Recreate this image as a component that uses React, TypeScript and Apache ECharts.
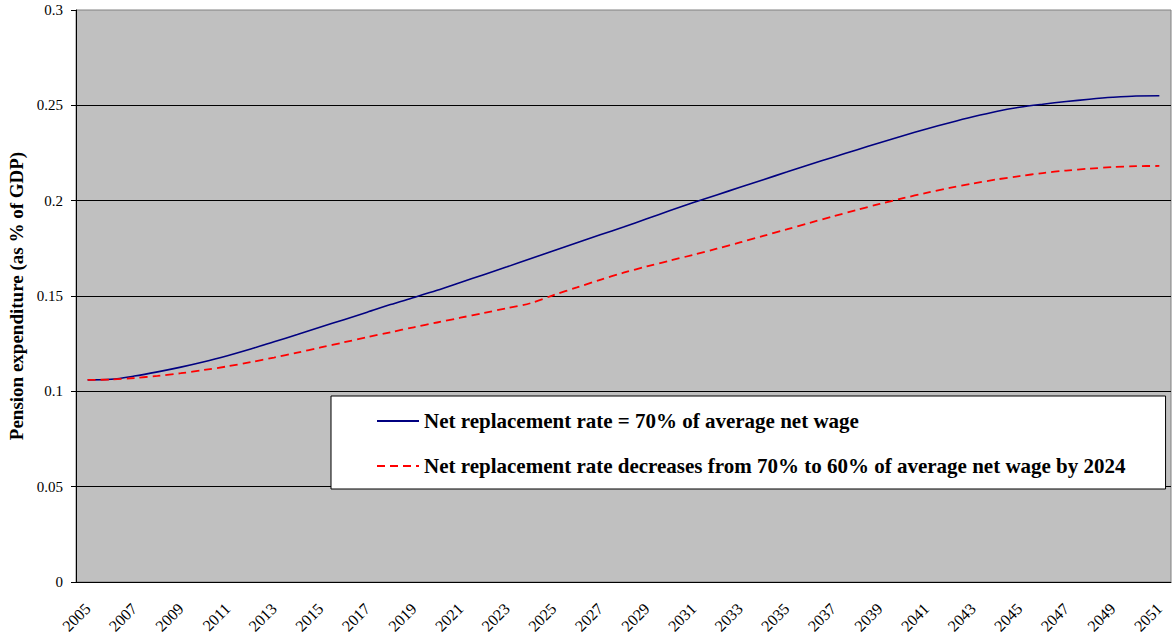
import React, { useEffect, useRef } from "react";
import * as echarts from "echarts";

const years: string[] = [];
for (let y = 2005; y <= 2051; y++) years.push(String(y));

const seriesNames = [
  "Net replacement rate = 70% of average net wage",
  "Net replacement rate decreases from 70% to 60% of average net wage by 2024",
];

const rate70 = [
  0.1060, 0.1063, 0.1080, 0.1102, 0.1127, 0.1155, 0.1187, 0.1222, 0.1260, 0.1298,
  0.1337, 0.1376, 0.1415, 0.1455, 0.1492, 0.1530, 0.1571, 0.1612, 0.1653, 0.1695,
  0.1737, 0.1779, 0.1821, 0.1862, 0.1905, 0.1948, 0.1990, 0.2030, 0.2070, 0.2110,
  0.2150, 0.2190, 0.2228, 0.2266, 0.2304, 0.2341, 0.2376, 0.2409, 0.2440, 0.2468,
  0.2490, 0.2506, 0.2520, 0.2532, 0.2542, 0.2549, 0.2550,
];

const rateDecreasing = [
  0.1060, 0.1062, 0.1070, 0.1081, 0.1095, 0.1112, 0.1131, 0.1153, 0.1177, 0.1203,
  0.1230, 0.1257, 0.1284, 0.1310, 0.1336, 0.1361, 0.1386, 0.1411, 0.1436, 0.1462,
  0.1505, 0.1545, 0.1585, 0.1622, 0.1655, 0.1686, 0.1716, 0.1748, 0.1781, 0.1815,
  0.1849, 0.1884, 0.1918, 0.1951, 0.1983, 0.2013, 0.2041, 0.2067, 0.2090, 0.2111,
  0.2129, 0.2145, 0.2158, 0.2168, 0.2176, 0.2181, 0.2182,
];

const FONT = "'Liberation Serif', 'Times New Roman', serif";

export default function App() {
  const ref = useRef<HTMLDivElement>(null);
  useEffect(() => {
    document.body.style.margin = "0";
    if (!ref.current) return;
    const chart = echarts.init(ref.current, undefined, { renderer: "svg" });
    chart.setOption({
      animation: false,
      backgroundColor: "#ffffff",
      textStyle: { fontFamily: FONT },
      grid: {
        left: 76,
        top: 10,
        right: 2,
        bottom: 52,
        containLabel: false,
        outerBoundsMode: "none",
        show: true,
        backgroundColor: "#C0C0C0",
        borderColor: "#808080",
        borderWidth: 1,
      },
      legend: {
        orient: "vertical",
        left: 331,
        top: 396,
        align: "left",
        backgroundColor: "#ffffff",
        borderColor: "#000000",
        borderWidth: 1,
        padding: [14, 40, 12, 45],
        itemGap: 23,
        itemWidth: 42,
        itemHeight: 14,
        itemStyle: { opacity: 0 },
        textStyle: {
          fontFamily: FONT,
          fontSize: 21,
          fontWeight: "bold",
          color: "#000000",
          lineHeight: 22,
        },
        data: seriesNames,
      },
      xAxis: {
        type: "category",
        data: years,
        boundaryGap: true,
        axisLine: { lineStyle: { color: "#000000", width: 1 } },
        axisTick: { interval: 0, length: 5, lineStyle: { color: "#000000" } },
        axisLabel: {
          interval: 1,
          rotate: 45,
          fontSize: 16,
          color: "#000000",
          fontFamily: FONT,
          margin: 24,
        },
        splitLine: { show: false },
      },
      yAxis: {
        type: "value",
        min: 0,
        max: 0.3,
        interval: 0.05,
        name: "Pension expenditure (as % of GDP)",
        nameLocation: "middle",
        nameRotate: 90,
        nameGap: 49,
        nameTextStyle: {
          fontFamily: FONT,
          fontSize: 19,
          fontWeight: "bold",
          color: "#000000",
        },
        axisLine: { show: true, lineStyle: { color: "#000000", width: 1 } },
        axisTick: { show: true, length: 5, lineStyle: { color: "#000000" } },
        axisLabel: {
          fontSize: 15,
          color: "#000000",
          fontFamily: FONT,
          margin: 13,
          formatter: (v: number) => String(Math.round(v * 100) / 100),
        },
        splitLine: {
          show: true,
          showMaxLine: false,
          lineStyle: { color: "#000000", width: 1 },
        },
      },
      series: [
        {
          name: seriesNames[0],
          type: "line",
          data: rate70,
          symbol: "none",
          smooth: 0.3,
          lineStyle: { color: "#000080", width: 1.6 },
          itemStyle: { color: "#000080" },
        },
        {
          name: seriesNames[1],
          type: "line",
          data: rateDecreasing,
          symbol: "none",
          smooth: 0.3,
          lineStyle: { color: "#FF0000", width: 1.8, type: [8, 5] },
          itemStyle: { color: "#FF0000" },
        },
      ],
    });
    return () => chart.dispose();
  }, []);
  return <div ref={ref} style={{ width: 1173, height: 634 }} />;
}
